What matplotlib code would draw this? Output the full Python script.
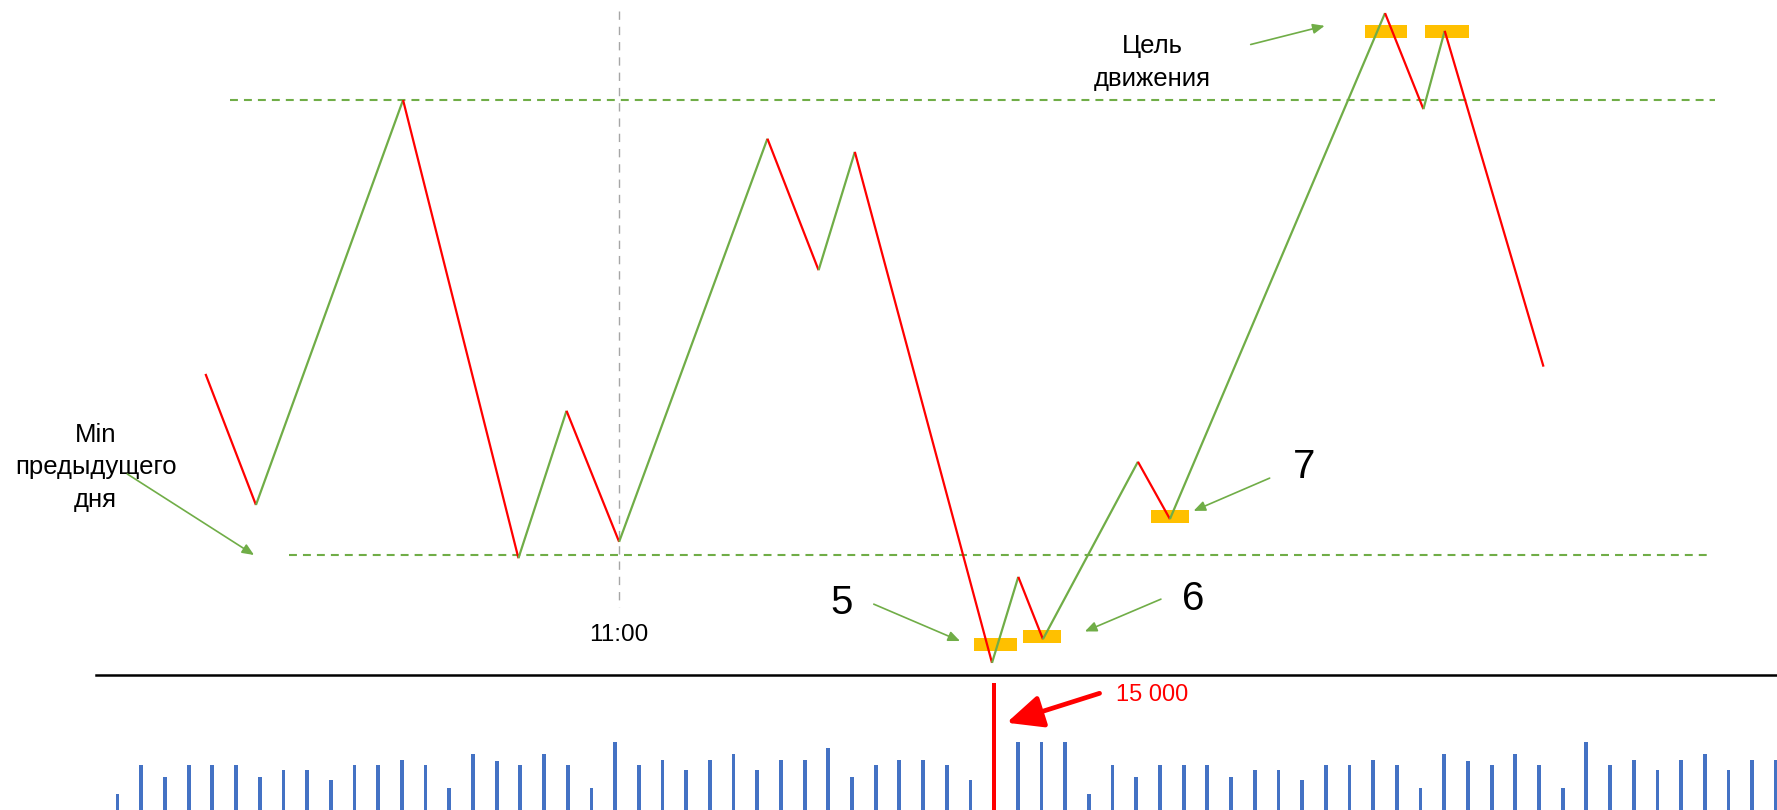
import matplotlib
matplotlib.use("Agg")
import matplotlib.pyplot as plt

plt.rcParams['font.family'] = ['Liberation Sans', 'DejaVu Sans']

# ---- data ----
# zigzag price path (time in bar index units, price in arbitrary units)
times = [3.71, 5.84, 12.05, 16.92, 18.95, 21.17, 27.43, 29.59, 31.12, 36.91,
         38.02, 39.06, 43.07, 44.42, 53.50, 55.12, 56.02, 60.19]
prices = [103.98, 101.10, 110.00, 99.93, 103.17, 100.29, 109.15, 106.26, 108.86,
          97.63, 99.52, 98.15, 102.05, 100.79, 111.91, 109.80, 111.52, 104.14]

# key levels
upper_level = 110.0
lower_level = 100.0
upper_span = (4.73, 67.43)
lower_span = (7.23, 67.25)
time_1100 = 21.17

# entry / target markers (orange)
marker_t = [37.05, 39.03, 44.43, 53.53, 56.11]
marker_p = [98.04, 98.21, 100.85, 111.51, 111.51]
marker_w = [1.81, 1.62, 1.63, 1.79, 1.84]
marker_h = 0.286

# volume bars
volumes = [1900, 5300, 3900, 5300, 5300, 5300, 3900, 4700, 4700, 3500, 5300, 5300,
           5900, 5300, 2600, 6600, 5800, 5300, 6600, 5300, 2600, 8000, 5300, 5900,
           4700, 5900, 6600, 4700, 5900, 5900, 7300, 3900, 5300, 5900, 5900, 5300,
           3500, 15000, 8000, 8000, 8000, 1900, 5300, 3900, 5300, 5300, 5300, 3900,
           4700, 4700, 3500, 5300, 5300, 5900, 5300, 2600, 6600, 5800, 5300, 6600,
           5300, 2600, 8000, 5300, 5900, 4700, 5900, 6600, 4700, 5900, 5900]
spike_index = 37
spike_label = "15 000"

GREEN = '#70AD47'
RED = '#FF0000'
ORANGE = '#FFC000'
BLUE = '#4472C4'
GRAY = '#A6A6A6'

W, H = 1777, 810
fig = plt.figure(figsize=(W / 100, H / 100), dpi=100)

xlim = (-4.964, 70.046)
vol_frac = 135 / H

# ---- price axes ----
ax = fig.add_axes([0, vol_frac, 1, 1 - vol_frac])
ax.set_xlim(*xlim)
ax.set_ylim(97.363, 112.198)
ax.axis('off')

# level lines
ax.plot(upper_span, [upper_level, upper_level], color=GREEN, lw=1.5,
        linestyle=(0, (3.8, 2.9)), zorder=1)
ax.plot(lower_span, [lower_level, lower_level], color=GREEN, lw=1.5,
        linestyle=(0, (3.8, 2.9)), zorder=1)
# 11:00 line
ax.plot([time_1100, time_1100], [111.96, 98.86], color=GRAY, lw=1.0,
        linestyle=(0, (6, 5)), zorder=1)
ax.text(time_1100, 98.24, "11:00", ha='center', va='center', fontsize=17.5)

# orange markers
ax.bar(marker_t, [marker_h] * len(marker_t), width=marker_w,
       bottom=[p - marker_h / 2 for p in marker_p], color=ORANGE, zorder=2)

# zigzag
for i in range(len(times) - 1):
    c = GREEN if prices[i + 1] > prices[i] else RED
    ax.plot(times[i:i + 2], prices[i:i + 2], color=c, lw=1.6, zorder=3,
            solid_capstyle='butt', clip_on=False)

arrow_green = dict(arrowstyle='-|>,head_length=0.7,head_width=0.3', color=GREEN,
                   lw=1.2, shrinkA=0, shrinkB=0, mutation_scale=10)

# annotations
ax.text(-0.93, 101.93, "Min\nпредыдущего\nдня", ha='center', va='center',
        fontsize=18.5, linespacing=1.45)
ax.annotate("", xy=(5.76, 100.0), xytext=(0.41, 101.78), arrowprops=arrow_green)

ax.text(30.58, 98.95, "5", ha='center', va='center', fontsize=29)
ax.annotate("", xy=(35.56, 98.11), xytext=(31.92, 98.92), arrowprops=arrow_green)

ax.text(45.39, 99.03, "6", ha='center', va='center', fontsize=29)
ax.annotate("", xy=(40.83, 98.32), xytext=(44.04, 99.03), arrowprops=arrow_green)

ax.text(50.10, 101.93, "7", ha='center', va='center', fontsize=29)
ax.annotate("", xy=(45.42, 100.97), xytext=(48.63, 101.69), arrowprops=arrow_green)

ax.text(43.66, 110.83, "Цель\nдвижения", ha='center', va='center',
        fontsize=18.5, linespacing=1.45)
ax.annotate("", xy=(50.95, 111.63), xytext=(47.83, 111.22), arrowprops=arrow_green)

# ---- volume axes ----
axv = fig.add_axes([0, 0, 1, vol_frac])
axv.set_xlim(*xlim)
axv.set_ylim(0, 15945)
for s in ['left', 'right', 'bottom']:
    axv.spines[s].set_visible(False)
axv.spines['top'].set_linewidth(1.8)
axv.spines['top'].set_color('black')
axv.spines['top'].set_bounds(-0.91, xlim[1])
axv.set_xticks([])
axv.set_yticks([])
axv.patch.set_alpha(0)

idx = list(range(len(volumes)))
colors = [RED if i == spike_index else BLUE for i in idx]
widths = [0.18 if i == spike_index else 0.16 for i in idx]
axv.bar(idx, volumes, width=widths, color=colors, linewidth=0)

axv.annotate("", xy=(37.53, 10310), xytext=(41.45, 13783),
             arrowprops=dict(arrowstyle='-|>,head_length=1.1,head_width=0.5',
                             color=RED, lw=3.4, shrinkA=0, shrinkB=0,
                             mutation_scale=20))
axv.text(42.16, 13546, spike_label, ha='left', va='center', fontsize=17, color=RED)

fig.savefig("out.png", dpi=100)
